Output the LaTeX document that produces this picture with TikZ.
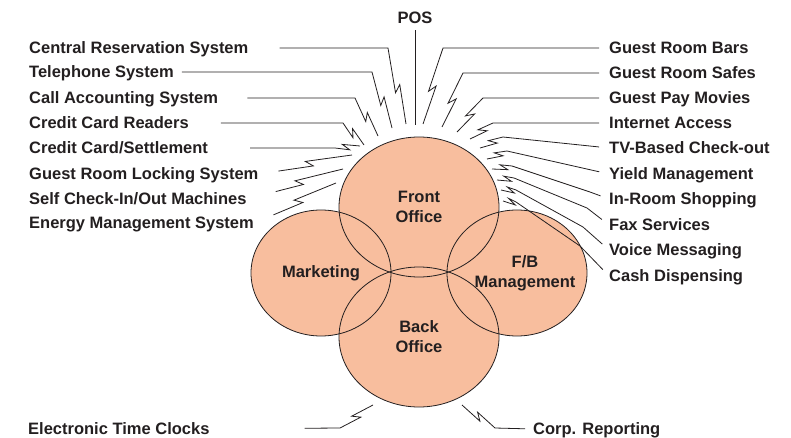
\documentclass[tikz,border=0pt]{standalone}
\usepackage{fontspec}
\setmainfont{Liberation Sans}
\usetikzlibrary{shapes.geometric,calc}

\definecolor{peach}{RGB}{248,190,158}
\definecolor{ink}{RGB}{35,31,32}
\newcommand{\sysfont}{\bfseries\fontsize{16.5}{20}\selectfont}

\tikzset{
  item/.style={font=\sysfont, text=ink, inner sep=0pt, text height=11.8pt, text depth=0pt},
  dept/.style={ellipse, fill=peach, inner sep=0pt, align=center, font=\sysfont, text=ink},
  wire/.style={draw=ink, line width=0.8pt},
  zap/.style={to path={
    -- ($(\tikztostart)!.58!(\tikztotarget)!3pt!-90:(\tikztotarget)$)
    -- ($(\tikztostart)!.58!(\tikztotarget)!-7pt!(\tikztotarget)!3pt!90:(\tikztotarget)$)
    -- (\tikztotarget)}}
}

\begin{document}
\begin{tikzpicture}[x=1pt, y=-1pt]
  \useasboundingbox (0,0) rectangle (791,438);

  % the four departments
  \node[dept, minimum width=140pt, minimum height=126pt] (mk) at (321,273) {Marketing};
  \node[dept, minimum width=140pt, minimum height=126pt,
        label={[font=\sysfont, text=ink, align=center, xshift=8pt]center:{F/B\\Management}}] (fb) at (517,273) {};
  \node[dept, minimum width=160pt, minimum height=140pt] (fo) at (419,207) {Front\\Office};
  \node[dept, minimum width=160pt, minimum height=140pt] (bo) at (419,337) {Back\\Office};
  \foreach \n/\rx/\ry in {mk/70/63, fb/70/63, fo/80/70, bo/80/70}
    \draw[wire] (\n.center) ellipse [x radius=\rx pt, y radius=\ry pt];

  % systems, left
  \node[item, anchor=west] (l1) at (29,48) {Central Reservation System};
  \node[item, anchor=west] (l2) at (29,72) {Telephone System};
  \node[item, anchor=west] (l3) at (29,98) {Call Accounting System};
  \node[item, anchor=west] (l4) at (29,123) {Credit Card Readers};
  \node[item, anchor=west] (l5) at (29,148) {Credit Card/Settlement};
  \node[item, anchor=west] (l6) at (29,174) {Guest Room Locking System};
  \node[item, anchor=west] (l7) at (29,199) {Self Check-In/Out Machines};
  \node[item, anchor=west] (l8) at (29,223) {Energy Management System};

  % systems, right
  \node[item, anchor=west] (r1) at (609,48) {Guest Room Bars};
  \node[item, anchor=west] (r2) at (609,73) {Guest Room Safes};
  \node[item, anchor=west] (r3) at (609,98) {Guest Pay Movies};
  \node[item, anchor=west] (r4) at (609,123) {Internet Access};
  \node[item, anchor=west] (r5) at (609,148) {TV-Based Check-out};
  \node[item, anchor=west] (r6) at (609,174) {Yield Management};
  \node[item, anchor=west] (r7) at (609,199) {In-Room Shopping};
  \node[item, anchor=west] (r8) at (609,225) {Fax Services};
  \node[item, anchor=west] (r9) at (609,250) {Voice Messaging};
  \node[item, anchor=west] (r10) at (609,276) {Cash Dispensing};

  % top and bottom
  \node[item] (pos) at (415,18) {POS};
  \node[item, anchor=west] (etc) at (28,429) {Electronic Time Clocks};
  \node[item, anchor=west] (corp) at (533,429) {Corp. Reporting};

  % free ends of the links
  \coordinate (e0) at (415,125);
  \coordinate (e1) at (406,124);
  \coordinate (e2) at (392,128);
  \coordinate (e3) at (378,136);
  \coordinate (e4) at (364,145);
  \coordinate (e5) at (360,146);
  \coordinate (e6) at (352,155);
  \coordinate (e7) at (343,169);
  \coordinate (e8) at (336,183);
  \coordinate (f1) at (423,124);
  \coordinate (f2) at (442,127);
  \coordinate (f3) at (457,132);
  \coordinate (f4) at (470,139);
  \coordinate (f5) at (480,148);
  \coordinate (f6) at (487,159);
  \coordinate (f7) at (492,169);
  \coordinate (f8) at (497,180);
  \coordinate (f9) at (501,190);
  \coordinate (f10) at (503,201);
  \coordinate (g1) at (373,405);
  \coordinate (g2) at (462,405);

  \draw[wire, shorten <=6pt] (pos.south) -- (e0);
  \draw[wire, shorten <=31pt] (l1.east) -- (388,48) to[zap] (e1);
  \draw[wire, shorten <=8pt] (l2.east) -- (372,72) to[zap] (e2);
  \draw[wire, shorten <=29pt] (l3.east) -- (355,98) to[zap] (e3);
  \draw[wire, shorten <=32pt] (l4.east) -- (343,123) to[zap] (e4);
  \draw[wire, shorten <=42pt] (l5.east) -- (335,148) to[zap] (e5);
  \draw[wire, shorten <=20pt] (l6.east) to[zap] (e6);
  \draw[wire, shorten <=30pt] (l7.east) to[zap] (e7);
  \draw[wire, shorten <=21pt] (l8.east) to[zap] (e8);

  \draw[wire, shorten <=10pt] (r1.west) -- (443,48) to[zap] (f1);
  \draw[wire, shorten <=10pt] (r2.west) -- (463,73) to[zap] (f2);
  \draw[wire, shorten <=10pt] (r3.west) -- (483,98) to[zap] (f3);
  \draw[wire, shorten <=10pt] (r4.west) -- (493,123) to[zap] (f4);
  \draw[wire, shorten <=10pt] (r5.west) -- (503,137) to[zap] (f5);
  \draw[wire, shorten <=10pt] (r6.west) -- (507,151) to[zap] (f6);
  \draw[wire, shorten <=9pt] (r7.west) -- (590,192) -- (512,166) to[zap] (f7);
  \draw[wire, shorten <=9pt] (r8.west) -- (587,208) -- (514,178) to[zap] (f8);
  \draw[wire, shorten <=9pt] (r9.west) -- (583,227) -- (516,190) to[zap] (f9);
  \draw[wire, shorten <=9pt] (r10.west) -- (580,246) -- (516,202) to[zap] (f10);

  \draw[wire, shorten <=95pt] (etc.east) -- (340,428) to[zap] (g1);
  \draw[wire, shorten <=8pt] (corp.west) -- (495,428) to[zap] (g2);
\end{tikzpicture}
\end{document}
